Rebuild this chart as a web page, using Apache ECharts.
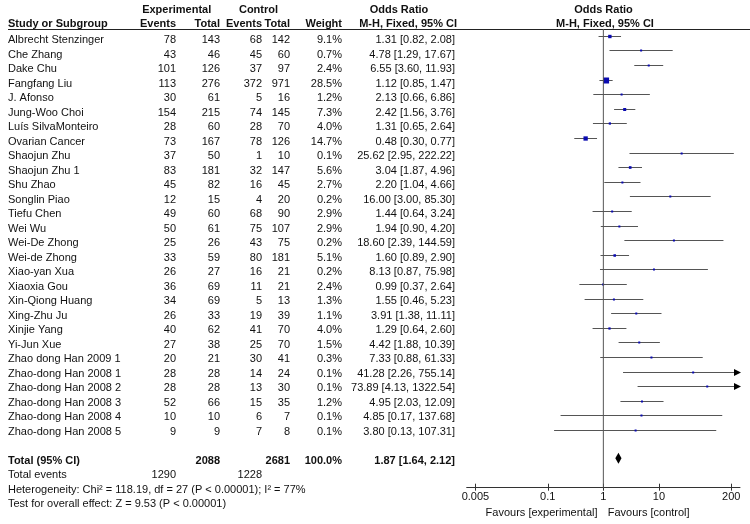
<!DOCTYPE html>
<html><head><meta charset="utf-8">
<script src="https://cdn.jsdelivr.net/npm/echarts@6/dist/echarts.min.js"></script>
<style>html,body{margin:0;padding:0;background:#fff}#c{width:750px;height:524px}</style>
</head><body><div id="c"></div>
<script>
const studies = ['Albrecht Stenzinger','Che Zhang','Dake Chu','Fangfang Liu','J. Afonso','Jung-Woo Choi','Luís SilvaMonteiro','Ovarian Cancer','Shaojun Zhu','Shaojun Zhu 1','Shu Zhao','Songlin Piao','Tiefu Chen','Wei Wu','Wei-De Zhong','Wei-de Zhong','Xiao-yan Xua','Xiaoxia Gou','Xin-Qiong Huang','Xing-Zhu Ju','Xinjie Yang','Yi-Jun Xue','Zhao dong Han 2009 1','Zhao-dong Han 2008 1','Zhao-dong Han 2008 2','Zhao-dong Han 2008 3','Zhao-dong Han 2008 4','Zhao-dong Han 2008 5'];
const expEvents = [78,43,101,113,30,154,28,73,37,83,45,12,49,50,25,33,26,36,34,26,40,27,20,28,28,52,10,9];
const expTotal = [143,46,126,276,61,215,60,167,50,181,82,15,60,61,26,59,27,69,69,33,62,38,21,28,28,66,10,9];
const ctrlEvents = [68,45,37,372,5,74,28,78,1,32,16,4,68,75,43,80,16,11,5,19,41,25,30,14,13,15,6,7];
const ctrlTotal = [142,60,97,971,16,145,70,126,10,147,45,20,90,107,75,181,21,21,13,39,70,70,41,24,30,35,7,8];
const weights = [9.1,0.7,2.4,28.5,1.2,7.3,4.0,14.7,0.1,5.6,2.7,0.2,2.9,2.9,0.2,5.1,0.2,2.4,1.3,1.1,4.0,1.5,0.3,0.1,0.1,1.2,0.1,0.1];
const oddsRatio = [1.31,4.78,6.55,1.12,2.13,2.42,1.31,0.48,25.62,3.04,2.20,16.00,1.44,1.94,18.60,1.60,8.13,0.99,1.55,3.91,1.29,4.42,7.33,41.28,73.89,4.95,4.85,3.80];
const ciLow = [0.82,1.29,3.60,0.85,0.66,1.56,0.65,0.30,2.95,1.87,1.04,3.00,0.64,0.90,2.39,0.89,0.87,0.37,0.46,1.38,0.64,1.88,0.88,2.26,4.13,2.03,0.17,0.13];
const ciHigh = [2.08,17.67,11.93,1.47,6.86,3.76,2.64,0.77,222.22,4.96,4.66,85.30,3.24,4.20,144.59,2.90,75.98,2.64,5.23,11.11,2.60,10.39,61.33,755.14,1322.54,12.09,137.68,107.31];
const totalOR = 1.87, totalLow = 1.64, totalHigh = 2.12;
const totalExpN = 2088, totalCtrlN = 2681, totalWeight = 100.0;
const totalExpEvents = 1290, totalCtrlEvents = 1228;
const heteroText = 'Heterogeneity: Chi\u00B2 = 118.19, df = 27 (P < 0.00001); I\u00B2 = 77%';
const effectText = 'Test for overall effect: Z = 9.53 (P < 0.00001)';
const tickValues = [0.005, 0.1, 1, 10, 200];
const tickLabels = ['0.005', '0.1', '1', '10', '200'];

const L = Math.log10;
const X_MIN = -2.458, X_MAX = 2.458;
const FONT = '11px "Liberation Sans", Arial, sans-serif';
const BFONT = 'bold 11px "Liberation Sans", Arial, sans-serif';
const TXT = '#111';
const COL = {name: 8, expE: 176, expT: 220, ctlE: 262, ctlT: 290, w: 342, or: 455};

function fmtCI(o, l, h) { return o.toFixed(2) + ' [' + l.toFixed(2) + ', ' + h.toFixed(2) + ']'; }
function tEl(x, y, str, align, bold) {
  return {type: 'text', x: x, y: y, style: {text: str, textAlign: align, textVerticalAlign: 'middle', font: bold ? BFONT : FONT, fill: TXT}};
}

const tableData = studies.map((s, i) => [i, 0]);
tableData.push([29, 1], [30, 2], [31, 3], [32, 4]);

const plotData = studies.map((s, i) => [L(oddsRatio[i]), L(ciLow[i]), L(ciHigh[i]), i, weights[i]]);

const PLOT_GRID = {left: 466.7, width: 273.3, top: 21.7, height: 466};

const chart = echarts.init(document.getElementById('c'), null, {renderer: 'canvas'});
chart.setOption({
  animation: false,
  backgroundColor: '#fff',
  grid: [
    Object.assign({}, PLOT_GRID),
    {left: 0, width: 750, top: 25.49, height: 34 * 14.51},
    Object.assign({}, PLOT_GRID)
  ],
  xAxis: [
    {gridIndex: 0, type: 'value', min: X_MIN, max: X_MAX, position: 'bottom',
      axisLine: {show: true, onZero: false, lineStyle: {color: '#333', width: 1}},
      axisTick: {show: true, inside: true, length: 4, customValues: tickValues.map(L), lineStyle: {color: '#333'}},
      axisLabel: {show: true, customValues: tickValues.map(L), margin: 4, fontSize: 11, color: TXT,
        fontFamily: '"Liberation Sans", Arial, sans-serif',
        formatter: v => { let k = 0, best = 1e9; tickValues.forEach((t, j) => { const d = Math.abs(L(t) - v); if (d < best) { best = d; k = j; } }); return tickLabels[k]; }},
      splitLine: {show: false}},
    {gridIndex: 1, type: 'value', min: 0, max: 750, show: false, axisLine: {onZero: false}},
    {gridIndex: 2, type: 'value', min: X_MIN, max: X_MAX, position: 'bottom',
      axisLine: {show: false, onZero: false},
      axisTick: {show: true, inside: false, length: 3, customValues: tickValues.map(L), lineStyle: {color: '#333'}},
      axisLabel: {show: false}, splitLine: {show: false}}
  ],
  yAxis: [
    {gridIndex: 0, type: 'value', min: -1, max: 30.92, inverse: true, show: false, axisLine: {onZero: false}},
    {gridIndex: 1, type: 'value', min: -1, max: 33, inverse: true, show: false, axisLine: {onZero: false}},
    {gridIndex: 2, type: 'value', min: 0, max: 1, show: false, axisLine: {onZero: false}}
  ],
  series: [
    {type: 'line', xAxisIndex: 0, yAxisIndex: 0, data: [[0, -0.5], [0, 30.92]], symbol: 'none',
      lineStyle: {color: '#555', width: 1}, silent: true},
    {type: 'custom', xAxisIndex: 0, yAxisIndex: 0, data: plotData, clip: false,
      renderItem: function (params, api) {
        const row = api.value(3);
        const p = api.coord([api.value(0), row]);
        const y = Math.round(p[1] - 0.5) + 0.5;
        const lo = api.coord([Math.max(api.value(1), X_MIN), row]);
        const clipHi = api.value(2) > X_MAX;
        const hi = api.coord([Math.min(api.value(2), X_MAX), row]);
        const ch = [{type: 'line', shape: {x1: lo[0], y1: y, x2: hi[0], y2: y}, style: {stroke: '#555', lineWidth: 1}}];
        if (clipHi) ch.push({type: 'polygon', shape: {points: [[hi[0] + 1, y], [hi[0] - 6, y - 3.5], [hi[0] - 6, y + 3.5]]}, style: {fill: '#000'}});
        const s = Math.max(2, 6 * Math.sqrt(api.value(4) / 28.5));
        ch.push({type: 'rect', shape: {x: p[0] - s / 2, y: y - s / 2, width: s, height: s}, style: {fill: '#0a0ab0'}});
        return {type: 'group', children: ch};
      }},
    {type: 'custom', xAxisIndex: 0, yAxisIndex: 0, data: [[L(totalOR), L(totalLow), L(totalHigh), 29]], clip: false,
      renderItem: function (params, api) {
        const row = api.value(3);
        const c = api.coord([api.value(0), row]);
        const lo = api.coord([api.value(1), row]);
        const hi = api.coord([api.value(2), row]);
        const yy = c[1] - 1.5;
        return {type: 'polygon', shape: {points: [[lo[0], yy], [c[0], yy - 5.5], [hi[0], yy], [c[0], yy + 5.5]]}, style: {fill: '#000'}};
      }},
    {type: 'custom', xAxisIndex: 1, yAxisIndex: 1, data: tableData, clip: false,
      renderItem: function (params, api) {
        const row = api.value(0), kind = api.value(1);
        const y = api.coord([0, row])[1];
        const ch = [];
        if (kind === 0) {
          const i = row;
          ch.push(tEl(COL.name, y, studies[i], 'left'));
          ch.push(tEl(COL.expE, y, String(expEvents[i]), 'right'));
          ch.push(tEl(COL.expT, y, String(expTotal[i]), 'right'));
          ch.push(tEl(COL.ctlE, y, String(ctrlEvents[i]), 'right'));
          ch.push(tEl(COL.ctlT, y, String(ctrlTotal[i]), 'right'));
          ch.push(tEl(COL.w, y, weights[i].toFixed(1) + '%', 'right'));
          ch.push(tEl(COL.or, y, fmtCI(oddsRatio[i], ciLow[i], ciHigh[i]), 'right'));
        } else if (kind === 1) {
          ch.push(tEl(COL.name, y, 'Total (95% CI)', 'left', true));
          ch.push(tEl(COL.expT, y, String(totalExpN), 'right', true));
          ch.push(tEl(COL.ctlT, y, String(totalCtrlN), 'right', true));
          ch.push(tEl(COL.w, y, totalWeight.toFixed(1) + '%', 'right', true));
          ch.push(tEl(COL.or, y, fmtCI(totalOR, totalLow, totalHigh), 'right', true));
        } else if (kind === 2) {
          ch.push(tEl(COL.name, y, 'Total events', 'left'));
          ch.push(tEl(COL.expE, y, String(totalExpEvents), 'right'));
          ch.push(tEl(COL.ctlE, y, String(totalCtrlEvents), 'right'));
        } else if (kind === 3) {
          ch.push(tEl(COL.name, y, heteroText, 'left'));
        } else {
          ch.push(tEl(COL.name, y, effectText, 'left'));
        }
        return {type: 'group', children: ch};
      }}
  ],
  graphic: [
    {type: 'line', shape: {x1: 8, y1: 29.5, x2: 750, y2: 29.5}, style: {stroke: '#222', lineWidth: 1}},
    {type: 'text', x: 176.7, y: 9.5, style: {text: 'Experimental', textAlign: 'center', textVerticalAlign: 'middle', font: BFONT, fill: TXT}},
    {type: 'text', x: 258.5, y: 9.5, style: {text: 'Control', textAlign: 'center', textVerticalAlign: 'middle', font: BFONT, fill: TXT}},
    {type: 'text', x: 399, y: 9.5, style: {text: 'Odds Ratio', textAlign: 'center', textVerticalAlign: 'middle', font: BFONT, fill: TXT}},
    {type: 'text', x: 603.5, y: 9.5, style: {text: 'Odds Ratio', textAlign: 'center', textVerticalAlign: 'middle', font: BFONT, fill: TXT}},
    {type: 'text', x: 8, y: 24, style: {text: 'Study or Subgroup', textAlign: 'left', textVerticalAlign: 'middle', font: BFONT, fill: TXT}},
    {type: 'text', x: 176, y: 24, style: {text: 'Events', textAlign: 'right', textVerticalAlign: 'middle', font: BFONT, fill: TXT}},
    {type: 'text', x: 220, y: 24, style: {text: 'Total', textAlign: 'right', textVerticalAlign: 'middle', font: BFONT, fill: TXT}},
    {type: 'text', x: 262, y: 24, style: {text: 'Events', textAlign: 'right', textVerticalAlign: 'middle', font: BFONT, fill: TXT}},
    {type: 'text', x: 290, y: 24, style: {text: 'Total', textAlign: 'right', textVerticalAlign: 'middle', font: BFONT, fill: TXT}},
    {type: 'text', x: 342, y: 24, style: {text: 'Weight', textAlign: 'right', textVerticalAlign: 'middle', font: BFONT, fill: TXT}},
    {type: 'text', x: 457, y: 24, style: {text: 'M-H, Fixed, 95% CI', textAlign: 'right', textVerticalAlign: 'middle', font: BFONT, fill: TXT}},
    {type: 'text', x: 605, y: 24, style: {text: 'M-H, Fixed, 95% CI', textAlign: 'center', textVerticalAlign: 'middle', font: BFONT, fill: TXT}},
    {type: 'text', x: 597.5, y: 512.7, style: {text: 'Favours [experimental]', textAlign: 'right', textVerticalAlign: 'middle', font: FONT, fill: TXT}},
    {type: 'text', x: 607.7, y: 512.7, style: {text: 'Favours [control]', textAlign: 'left', textVerticalAlign: 'middle', font: FONT, fill: TXT}}
  ]
});
</script>
</body></html>
